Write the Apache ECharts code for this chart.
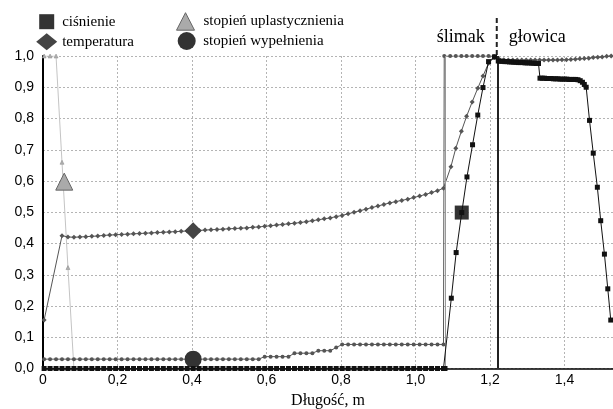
<!DOCTYPE html>
<html><head><meta charset="utf-8">
<script src="https://cdn.jsdelivr.net/npm/echarts@6/dist/echarts.min.js"></script>
<style>html,body{margin:0;padding:0;background:#fff}#c{width:613px;height:409px}</style>
</head><body><div id="c"></div>
<script>
// ---- data ----
const screwX = [0.003,0.019,0.035,0.051,0.067,0.083,0.099,0.115,0.131,0.147,
0.163,0.179,0.195,0.211,0.227,0.243,0.259,0.275,0.291,0.307,
0.323,0.339,0.355,0.371,0.387,0.403,0.419,0.435,0.451,0.467,
0.483,0.499,0.515,0.531,0.547,0.563,0.579,0.595,0.611,0.627,
0.643,0.659,0.675,0.691,0.707,0.723,0.739,0.755,0.771,0.787,
0.803,0.819,0.835,0.851,0.867,0.883,0.899,0.915,0.931,0.947,
0.963,0.979,0.995,1.011,1.027,1.043,1.059,1.075];

const tempScrew = [0.155,null,null,0.425,0.421,0.420,0.421,0.422,0.423,0.424,
0.426,0.427,0.428,0.429,0.430,0.431,0.432,0.433,0.434,0.435,
0.436,0.437,0.438,0.439,0.440,0.441,0.442,0.443,0.444,0.445,
0.446,0.447,0.448,0.449,0.450,0.452,0.453,0.455,0.457,0.459,
0.461,0.463,0.465,0.467,0.470,0.473,0.476,0.479,0.482,0.486,
0.490,0.495,0.500,0.505,0.510,0.515,0.520,0.525,0.530,0.534,
0.538,0.542,0.547,0.552,0.557,0.563,0.569,0.577];
const tempRampX = [1.095,1.108,1.123,1.137,1.152,1.167,1.181,1.196,1.211];
const tempRamp = [0.646,0.705,0.759,0.807,0.853,0.897,0.936,0.977,0.995];
const tempDieX = [1.225,1.237,1.249,1.261,1.273,1.285,1.297,1.309,1.321,1.333,1.345,1.357,1.369,1.381,1.393,1.405,1.417,1.429,1.441,1.453,1.465,1.477,1.489,1.501,1.513,1.525];
const tempDie = [0.990,0.988,0.987,0.987,0.987,0.987,0.987,0.987,0.987,0.987,0.987,0.987,0.987,0.987,0.988,0.988,0.989,0.990,0.991,0.992,0.993,0.995,0.996,0.997,0.999,1.0];

const fillScrew = [0.03,0.03,0.03,0.03,0.03,0.03,0.03,0.03,0.03,0.03,
0.03,0.03,0.03,0.03,0.03,0.03,0.03,0.03,0.03,0.03,
0.03,0.03,0.03,0.03,0.03,0.03,0.03,0.03,0.03,0.03,
0.03,0.03,0.03,0.03,0.03,0.03,0.03,0.038,0.038,0.038,
0.038,0.038,0.049,0.049,0.049,0.049,0.057,0.057,0.057,0.067,
0.077,0.077,0.077,0.077,0.077,0.077,0.077,0.077,0.077,0.077,
0.077,0.077,0.077,0.077,0.077,0.077,0.077,0.077];
const fillTopX = [1.077,1.093,1.108,1.123,1.137,1.152,1.167,1.181,1.196,1.211];
const fillTop = [1,1,1,1,1,1,1,1,1,1];

const plastScrew = [1,1,1,0.66,0.323,0,0,0,0,0,
0,0,0,0,0,0,0,0,0,0,
0,0,0,0,0,0,0,0,0,0,
0,0,0,0,0,0,0,0,0,0,
0,0,0,0,0,0,0,0,0,0,
0,0,0,0,0,0,0,0,0,0,
0,0,0,0,0,0,0,0];

const pressScrew = [0,0,0,0,0,0,0,0,0,0,
0,0,0,0,0,0,0,0,0,0,
0,0,0,0,0,0,0,0,0,0,
0,0,0,0,0,0,0,0,0,0,
0,0,0,0,0,0,0,0,0,0,
0,0,0,0,0,0,0,0,0,0,
0,0,0,0,0,0,0,0];
const pressDieX = [1.079,1.096,1.109,1.124,1.138,1.153,1.167,1.181,1.196,1.212,
1.222,1.228,1.234,1.240,1.246,1.252,1.258,1.264,1.270,1.276,1.282,1.288,1.294,1.300,1.306,1.312,1.318,1.324,1.330,
1.334,1.340,1.346,1.352,1.358,1.364,1.370,1.376,1.382,1.388,1.394,1.400,1.406,1.412,1.418,1.424,1.430,1.436,
1.442,1.448,1.453,1.458,1.467,1.477,1.488,1.497,1.507,1.516,1.524];
const pressDie = [0,0.225,0.371,0.499,0.613,0.716,0.811,0.899,0.982,0.997,
0.984,0.983,0.983,0.982,0.982,0.981,0.981,0.980,0.980,0.979,0.979,0.979,0.978,0.978,0.978,0.977,0.977,0.976,0.976,
0.929,0.929,0.929,0.928,0.928,0.928,0.927,0.927,0.927,0.926,0.926,0.926,0.926,0.925,0.925,0.925,0.925,0.924,
0.921,0.916,0.909,0.900,0.794,0.689,0.580,0.473,0.366,0.255,0.155];

// large legend-type markers placed in the plot [x, y]
const bigPress = [1.124, 0.499];
const bigTemp = [0.403, 0.441];
const bigPlast = [0.057, 0.598];
const bigFill = [0.403, 0.03];

const boundaryX = [1.077, 1.218];
const zoneLabels = ['ślimak', 'głowica'];
const names = ['ciśnienie', 'temperatura', 'stopień uplastycznienia', 'stopień wypełnienia'];

// ---- build ----
function zip(xs, ys){ const o=[]; for(let i=0;i<xs.length;i++){ if(ys[i]!==null) o.push([xs[i],ys[i]]);} return o; }
const pressData = zip(screwX, pressScrew).concat(zip(pressDieX, pressDie));
const tempData = zip(screwX, tempScrew).concat(zip(tempRampX, tempRamp), zip(tempDieX, tempDie));
const fillData = zip(screwX, fillScrew).concat(zip(fillTopX, fillTop));
const plastData = zip(screwX, plastScrew);

const fmt = v => v.toFixed(1).replace('.', ',');
const chart = echarts.init(document.getElementById('c'), null, {renderer:'canvas'});
const serif = 'Liberation Serif';
const sans = 'Liberation Sans';
const legTxt = pad => ({fontFamily:serif, fontSize:15, color:'#000', padding:[0,0,0,pad]});

const option = {
  animation:false,
  backgroundColor:'#fff',
  grid:{left:43, top:56, right:0, bottom:40.5, containLabel:false, outerBoundsMode:'none'},
  legend:[
    {left:39.2, top:14.2, padding:0, itemWidth:15, itemHeight:15, textStyle:legTxt(3),
     itemStyle:{color:'#333'}, data:[{name:names[0], icon:'rect'}]},
    {left:36.2, top:33.2, padding:0, itemWidth:21, itemHeight:17, textStyle:legTxt(0),
     itemStyle:{color:'#444'}, data:[{name:names[1], icon:'diamond'}]},
    {left:176, top:12.2, padding:0, itemWidth:18, itemHeight:17.5, textStyle:legTxt(4),
     itemStyle:{color:'#aaa', borderColor:'#666', borderWidth:1}, data:[{name:names[2], icon:'triangle'}]},
    {left:177.7, top:32, padding:0, itemWidth:18, itemHeight:18, textStyle:legTxt(2.5),
     itemStyle:{color:'#333'}, data:[{name:names[3], icon:'circle'}]}
  ],
  xAxis:{type:'value', min:0, max:1.53, interval:0.2,
    name:'Długość, m', nameLocation:'middle', nameGap:21,
    nameTextStyle:{fontFamily:serif, fontSize:16, color:'#000'},
    axisLine:{lineStyle:{color:'#000', width:1.5}}, axisTick:{show:false},
    axisLabel:{fontFamily:sans, fontSize:14, color:'#000', margin:5, showMaxLabel:false,
      formatter: v => v===0 ? '0' : (Math.abs(v*5-Math.round(v*5))<1e-6 ? fmt(v) : '')},
    splitLine:{show:true, lineStyle:{color:'#b4b4b4', type:[2,2], width:1}}},
  yAxis:{type:'value', min:0, max:1, interval:0.1,
    axisLine:{show:true, lineStyle:{color:'#000', width:2}}, axisTick:{show:false},
    axisLabel:{fontFamily:sans, fontSize:14, color:'#000', margin:9, formatter: fmt},
    splitLine:{show:true, lineStyle:{color:'#b4b4b4', type:[2,2], width:1}}},
  series:[
    {name:names[2], type:'line', data:plastData, symbol:'triangle', symbolSize:4, z:2,
     lineStyle:{color:'#c4c4c4', width:1}, itemStyle:{color:'#b0b0b0', borderColor:'#888', borderWidth:0.5},
     markPoint:{symbol:'triangle', symbolSize:17, silent:true, label:{show:false},
       itemStyle:{color:'#aaaaaa', borderColor:'#666', borderWidth:1}, data:[{coord:bigPlast}]}},
    {name:names[3], type:'line', data:fillData, symbol:'circle', symbolSize:4, z:3,
     lineStyle:{color:'#555', width:1}, itemStyle:{color:'#555'},
     markPoint:{symbol:'circle', symbolSize:17, silent:true, label:{show:false},
       itemStyle:{color:'#333'}, data:[{coord:bigFill}]}},
    {name:names[1], type:'line', data:tempData, symbol:'diamond', symbolSize:5, z:4,
     lineStyle:{color:'#555', width:1}, itemStyle:{color:'#555'},
     markPoint:{symbol:'diamond', symbolSize:17, silent:true, label:{show:false},
       itemStyle:{color:'#444'}, data:[{coord:bigTemp}]}},
    {name:names[0], type:'line', data:pressData, symbol:'rect', symbolSize:5, z:5,
     lineStyle:{color:'#111', width:1}, itemStyle:{color:'#111'},
     markPoint:{symbol:'rect', symbolSize:14, silent:true, label:{show:false},
       itemStyle:{color:'#333'}, data:[{coord:bigPress}]},
     markLine:{symbol:'none', silent:true, label:{show:false},
       data:[{xAxis:boundaryX[0], lineStyle:{color:'#999', width:1, type:'solid'}},
             {xAxis:boundaryX[1], lineStyle:{color:'#222', width:2, type:'solid'}}]}}
  ]
};
chart.setOption(option);

const bx = chart.convertToPixel({xAxisIndex:0}, boundaryX[1]);
const topY = chart.convertToPixel({yAxisIndex:0}, 1);
chart.setOption({graphic:[
  {type:'line', shape:{x1:bx, y1:18, x2:bx, y2:topY}, style:{stroke:'#222', lineWidth:2, lineDash:[5,3]}},
  {type:'text', x:bx-12, y:37, style:{text:zoneLabels[0], font:'18px "Liberation Serif"', fill:'#000', textAlign:'right', textVerticalAlign:'middle'}},
  {type:'text', x:bx+12, y:37, style:{text:zoneLabels[1], font:'18px "Liberation Serif"', fill:'#000', textAlign:'left', textVerticalAlign:'middle'}}
]});
</script></body></html>
